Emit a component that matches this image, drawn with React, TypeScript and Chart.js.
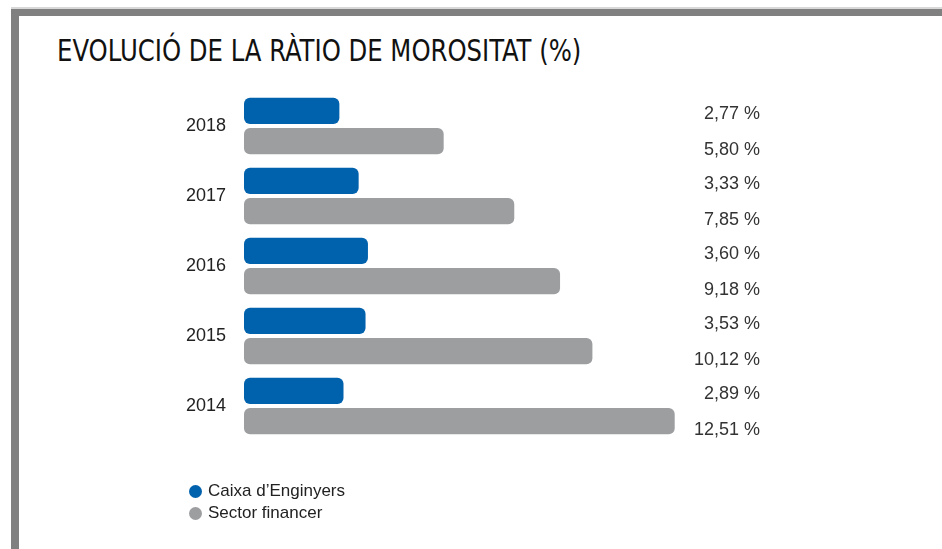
import React, { useEffect, useRef } from "react";
import { Chart, registerables } from "chart.js";

Chart.register(...registerables);

const years = ["2018", "2017", "2016", "2015", "2014"];
const caixaValues = [2.77, 3.33, 3.6, 3.53, 2.89];
const sectorValues = [5.8, 7.85, 9.18, 10.12, 12.51];
const seriesNames = ["Caixa d\u2019Enginyers", "Sector financer"];
const blue = "#0061ad";
const gray = "#9d9ea0";

const fmt = (v: number) => v.toFixed(2).replace(".", ",") + " %";

const valueLabels = {
  id: "valueLabels",
  afterDatasetsDraw(chart: any) {
    const ctx = chart.ctx;
    const yScale = chart.scales.y;
    ctx.save();
    ctx.font = "18px 'Liberation Sans', Arial, sans-serif";
    ctx.fillStyle = "#333333";
    ctx.textAlign = "right";
    ctx.textBaseline = "middle";
    years.forEach((_, i) => {
      const c = yScale.getPixelForValue(i);
      ctx.fillText(fmt(caixaValues[i]), 760, c - 12);
      ctx.fillText(fmt(sectorValues[i]), 760, c + 24);
    });
    ctx.restore();
  },
};

export default function App() {
  const ref = useRef<HTMLCanvasElement>(null);
  useEffect(() => {
    if (!ref.current) return;
    const chart = new Chart(ref.current, {
      type: "bar",
      data: {
        labels: years,
        datasets: [
          {
            label: seriesNames[0],
            data: caixaValues,
            backgroundColor: blue,
            borderRadius: 6,
            borderSkipped: false,
            categoryPercentage: 0.86,
            barPercentage: 0.87,
          },
          {
            label: seriesNames[1],
            data: sectorValues,
            backgroundColor: gray,
            borderRadius: 6,
            borderSkipped: false,
            categoryPercentage: 0.86,
            barPercentage: 0.87,
          },
        ],
      },
      options: {
        indexAxis: "y",
        responsive: false,
        animation: false,
        layout: { padding: { left: 144, right: 216, top: 91, bottom: 108 } },
        plugins: { legend: { display: false }, tooltip: { enabled: false } },
        scales: {
          x: { display: false, min: 0, max: 14 },
          y: {
            grid: { display: false },
            border: { display: false },
            ticks: {
              color: "#222222",
              padding: 10,
              font: { size: 18, family: "'Liberation Sans', Arial, sans-serif" },
            },
            afterFit: (s: any) => {
              s.width = 100;
            },
          },
        },
      },
      plugins: [valueLabels],
    } as any);
    return () => chart.destroy();
  }, []);

  const legendItem = (color: string, text: string, top: number) => (
    <div
      style={{
        position: "absolute",
        left: 189,
        top,
        display: "flex",
        alignItems: "center",
        fontFamily: "'Liberation Sans', Arial, sans-serif",
        fontSize: 17,
        color: "#222",
        lineHeight: "20px",
      }}
    >
      <span
        style={{
          display: "inline-block",
          width: 13,
          height: 13,
          borderRadius: "50%",
          background: color,
          marginRight: 6,
        }}
      />
      {text}
    </div>
  );

  return (
    <div
      style={{
        position: "absolute",
        left: 0,
        top: 0,
        width: 942,
        height: 549,
        overflow: "hidden",
        background: "#fff",
      }}
    >
      <div style={{ position: "absolute", left: 11, top: 7, width: 931, height: 2, background: "#d8d8d8" }} />
      <div style={{ position: "absolute", left: 11, top: 9, width: 931, height: 7, background: "#808080" }} />
      <div style={{ position: "absolute", left: 11, top: 9, width: 8, height: 540, background: "#808080" }} />
      <div
        style={{
          position: "absolute",
          left: 57,
          top: 33,
          fontFamily: "'Liberation Sans Narrow', 'DejaVu Sans Condensed', sans-serif",
          fontSize: 30,
          color: "#111",
          lineHeight: "36px",
          whiteSpace: "nowrap",
          transform: "scaleX(0.902)",
          transformOrigin: "0 0",
        }}
      >
        EVOLUCIÓ DE LA RÀTIO DE MOROSITAT (%)
      </div>
      <canvas ref={ref} width={942} height={549} style={{ position: "absolute", left: 0, top: 0 }} />
      {legendItem(blue, seriesNames[0], 481)}
      {legendItem(gray, seriesNames[1], 503)}
    </div>
  );
}
